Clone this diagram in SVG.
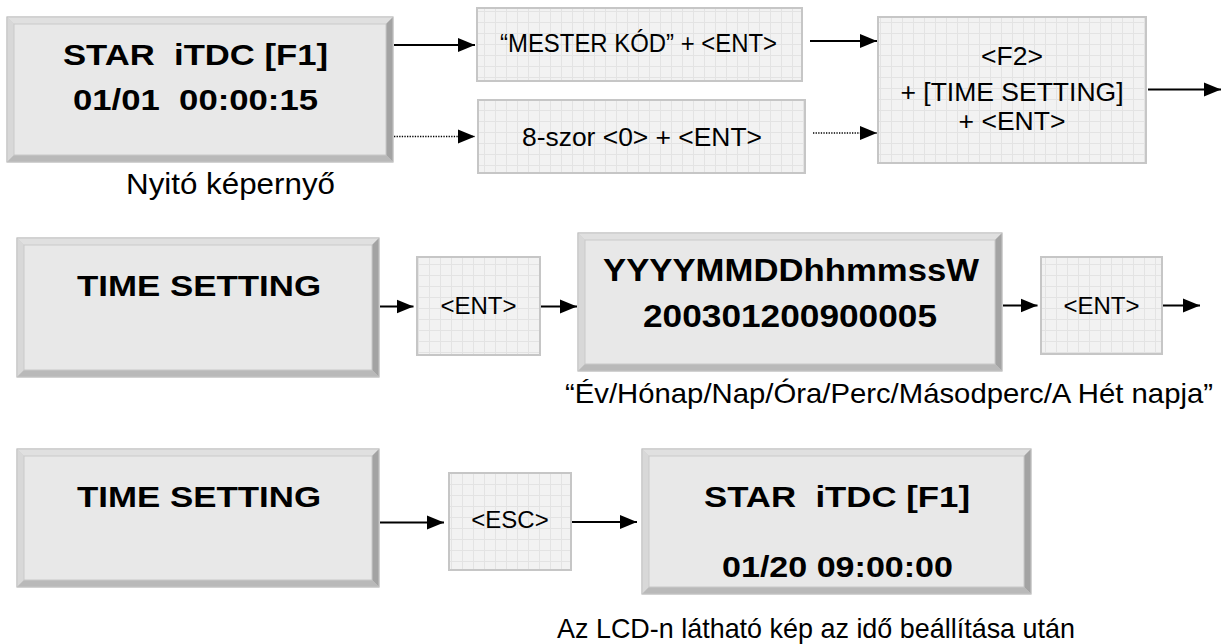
<svg xmlns="http://www.w3.org/2000/svg" width="1228" height="644" viewBox="0 0 1228 644">
<defs>
<style>
.b{font-family:"Liberation Sans",Arial,sans-serif;font-weight:bold;fill:#000;white-space:pre}
.r{font-family:"Liberation Sans",Arial,sans-serif;fill:#000;white-space:pre}
.outer{fill:#cfcfcf;stroke:#c4c4c4;stroke-width:1}
.bt{fill:#e0e0e0}.bl{fill:#d8d8d8}.br{fill:#a3a3a3}.bb{fill:#b9b9b9}
.face{fill:#e8e8e8;stroke:#c9c9c9;stroke-width:1}
.key{fill:url(#grid);stroke:#c6c6c6;stroke-width:2}
.ln{stroke:#000;stroke-width:1.8;fill:none}
.dot{stroke:#000;stroke-width:1.4;fill:none;stroke-dasharray:1.3 1.3}
</style>
<pattern id="grid" width="11" height="11" patternUnits="userSpaceOnUse">
<rect width="11" height="11" fill="#f2f2f2"/>
<path d="M0,0.5H11M0.5,0V11" stroke="#e3e3e3" stroke-width="1" fill="none"/>
</pattern>
<marker id="ah" markerWidth="17" markerHeight="15" refX="17" refY="7.5" orient="auto" markerUnits="userSpaceOnUse">
<path d="M0,0.5 L17,7.5 L0,14.5 z" fill="#000"/>
</marker>
</defs>
<rect width="1228" height="644" fill="#fff"/>

<g id="box-start">
<rect class="outer" x="7" y="17" width="386" height="145"/>
<polygon class="bt" points="7,17 393,17 386,24 14,24"/>
<polygon class="bl" points="7,17 14,24 14,155 7,162"/>
<polygon class="br" points="393,17 393,162 386,155 386,24"/>
<polygon class="bb" points="7,162 393,162 386,155 14,155"/>
<rect class="face" x="14" y="24" width="372" height="131"/>
<rect x="7" y="17" width="386" height="145" fill="none" stroke="#c4c4c4"/>
<text class="b" xml:space="preserve" x="63" y="65" font-size="30" textLength="265" lengthAdjust="spacingAndGlyphs">STAR  iTDC [F1]</text>
<text class="b" xml:space="preserve" x="73" y="110" font-size="30" textLength="245" lengthAdjust="spacingAndGlyphs">01/01  00:00:15</text>
</g>
<g id="label-nyito">
<text class="r" x="126" y="194" font-size="29" textLength="209" lengthAdjust="spacingAndGlyphs">Nyitó képernyő</text>
</g>

<g id="key-mester">
<rect class="key" x="477" y="8" width="325" height="73"/>
<text class="r" x="500" y="52" font-size="25" textLength="277" lengthAdjust="spacingAndGlyphs">“MESTER KÓD” + &lt;ENT&gt;</text>
</g>
<g id="key-8szor">
<rect class="key" x="478" y="100" width="327" height="73"/>
<text class="r" x="522" y="146" font-size="26" textLength="240" lengthAdjust="spacingAndGlyphs">8-szor &lt;0&gt; + &lt;ENT&gt;</text>
</g>
<g id="key-f2">
<rect class="key" x="878" y="17" width="268" height="146"/>
<text class="r" x="1012" y="65" font-size="26.5" text-anchor="middle">&lt;F2&gt;</text>
<text class="r" x="1012" y="101" font-size="26.5" text-anchor="middle">+ [TIME SETTING]</text>
<text class="r" x="1012" y="130" font-size="26.5" text-anchor="middle">+ &lt;ENT&gt;</text>
</g>

<g id="box-ts1">
<rect class="outer" x="17" y="238" width="362" height="139"/>
<polygon class="bt" points="17,238 379,238 372,245 24,245"/>
<polygon class="bl" points="17,238 24,245 24,370 17,377"/>
<polygon class="br" points="379,238 379,377 372,370 372,245"/>
<polygon class="bb" points="17,377 379,377 372,370 24,370"/>
<rect class="face" x="24" y="245" width="348" height="125"/>
<rect x="17" y="238" width="362" height="139" fill="none" stroke="#c4c4c4"/>
<text class="b" x="77" y="296" font-size="30" textLength="244" lengthAdjust="spacingAndGlyphs">TIME SETTING</text>
</g>
<g id="key-ent1">
<rect class="key" x="417" y="257" width="123" height="98"/>
<text class="r" x="478.5" y="314" font-size="24" text-anchor="middle">&lt;ENT&gt;</text>
</g>
<g id="box-yyyy">
<rect class="outer" x="578" y="233" width="424" height="138"/>
<polygon class="bt" points="578,233 1002,233 995,240 585,240"/>
<polygon class="bl" points="578,233 585,240 585,364 578,371"/>
<polygon class="br" points="1002,233 1002,371 995,364 995,240"/>
<polygon class="bb" points="578,371 1002,371 995,364 585,364"/>
<rect class="face" x="585" y="240" width="410" height="124"/>
<rect x="578" y="233" width="424" height="138" fill="none" stroke="#c4c4c4"/>
<text class="b" x="603" y="281" font-size="31" textLength="376" lengthAdjust="spacingAndGlyphs">YYYYMMDDhhmmssW</text>
<text class="b" x="643" y="327" font-size="31" textLength="294" lengthAdjust="spacingAndGlyphs">200301200900005</text>
</g>
<g id="key-ent2">
<rect class="key" x="1041" y="257" width="121" height="97"/>
<text class="r" x="1101.5" y="314" font-size="24" text-anchor="middle">&lt;ENT&gt;</text>
</g>
<g id="label-format">
<text class="r" x="565" y="403" font-size="28" textLength="648" lengthAdjust="spacingAndGlyphs">“Év/Hónap/Nap/Óra/Perc/Másodperc/A Hét napja”</text>
</g>

<g id="box-ts2">
<rect class="outer" x="17" y="449" width="362" height="138"/>
<polygon class="bt" points="17,449 379,449 372,456 24,456"/>
<polygon class="bl" points="17,449 24,456 24,580 17,587"/>
<polygon class="br" points="379,449 379,587 372,580 372,456"/>
<polygon class="bb" points="17,587 379,587 372,580 24,580"/>
<rect class="face" x="24" y="456" width="348" height="124"/>
<rect x="17" y="449" width="362" height="138" fill="none" stroke="#c4c4c4"/>
<text class="b" x="77" y="507" font-size="30" textLength="244" lengthAdjust="spacingAndGlyphs">TIME SETTING</text>
</g>
<g id="key-esc">
<rect class="key" x="449" y="473" width="122" height="97"/>
<text class="r" x="510" y="528" font-size="24" text-anchor="middle">&lt;ESC&gt;</text>
</g>
<g id="box-end">
<rect class="outer" x="642" y="449" width="389" height="145"/>
<polygon class="bt" points="642,449 1031,449 1024,456 649,456"/>
<polygon class="bl" points="642,449 649,456 649,587 642,594"/>
<polygon class="br" points="1031,449 1031,594 1024,587 1024,456"/>
<polygon class="bb" points="642,594 1031,594 1024,587 649,587"/>
<rect class="face" x="649" y="456" width="375" height="131"/>
<rect x="642" y="449" width="389" height="145" fill="none" stroke="#c4c4c4"/>
<text class="b" xml:space="preserve" x="704" y="507" font-size="29" textLength="266" lengthAdjust="spacingAndGlyphs">STAR  iTDC [F1]</text>
<text class="b" x="722" y="577" font-size="29" textLength="231" lengthAdjust="spacingAndGlyphs">01/20 09:00:00</text>
</g>
<g id="label-lcd">
<text class="r" x="557" y="638" font-size="28" textLength="518" lengthAdjust="spacingAndGlyphs">Az LCD-n látható kép az idő beállítása után</text>
</g>

<g id="connectors">
<line class="ln" x1="394" y1="45" x2="475" y2="45" marker-end="url(#ah)"/>
<line class="dot" x1="394" y1="136.5" x2="475" y2="136.5" marker-end="url(#ah)"/>
<line class="ln" x1="810" y1="41" x2="877" y2="41" marker-end="url(#ah)"/>
<line class="dot" x1="813" y1="133" x2="877" y2="133" marker-end="url(#ah)"/>
<line class="ln" x1="1148" y1="89.5" x2="1221" y2="89.5" marker-end="url(#ah)"/>
<line class="ln" x1="380" y1="306.5" x2="413.5" y2="306.5" marker-end="url(#ah)"/>
<line class="ln" x1="541" y1="306.5" x2="577" y2="306.5" marker-end="url(#ah)"/>
<line class="ln" x1="1003" y1="305.5" x2="1037.5" y2="305.5" marker-end="url(#ah)"/>
<line class="ln" x1="1163" y1="305.5" x2="1200" y2="305.5" marker-end="url(#ah)"/>
<line class="ln" x1="380" y1="522.5" x2="444" y2="522.5" marker-end="url(#ah)"/>
<line class="ln" x1="572" y1="522" x2="637" y2="522" marker-end="url(#ah)"/>
</g>
</svg>
